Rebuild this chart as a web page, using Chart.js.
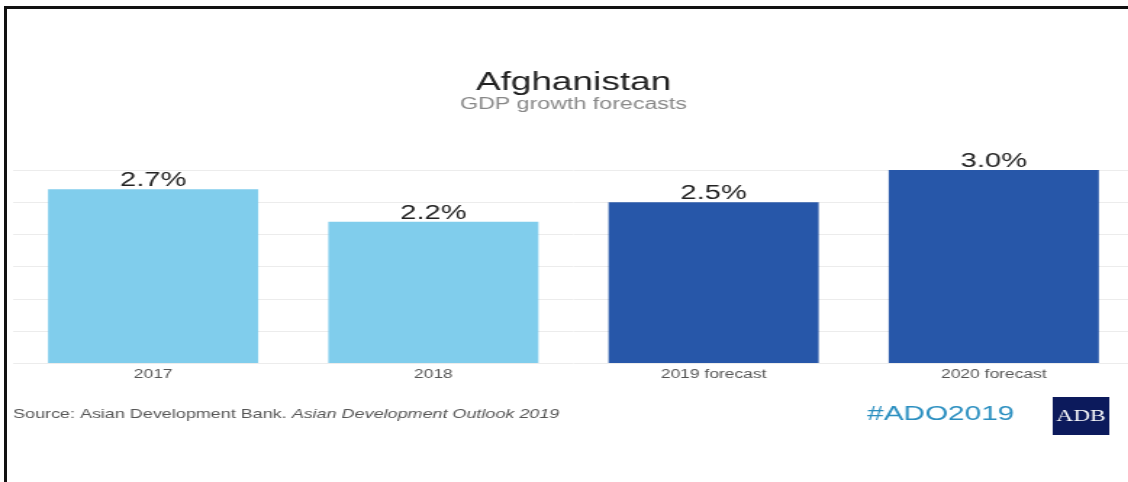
<!DOCTYPE html>
<html>
<head>
<meta charset="utf-8">
<script src="https://cdn.jsdelivr.net/npm/chart.js@4"></script>
<style>
  body { margin: 0; background: #fff; overflow: hidden; width: 1128px; height: 482px; }
  #frame { position: absolute; left: 4px; top: 6px; width: 1130px; height: 490px;
           border-top: 3px solid #111; border-left: 3px solid #111; pointer-events: none; }
  /* the reference picture is stretched sideways, so the chart is drawn narrow and scaled */
  #wrap { position: absolute; left: 0; top: 0; width: 782px; height: 482px;
          transform: scaleX(1.45); transform-origin: 0 0; }
</style>
</head>
<body>
<div id="wrap"><canvas id="myChart"></canvas></div>
<div id="frame"></div>
<script>
const categories = ["2017", "2018", "2019 forecast", "2020 forecast"];
const growth = [2.7, 2.2, 2.5, 3.0];
const valueLabels = ["2.7%", "2.2%", "2.5%", "3.0%"];
const barColors = ["#80cdec", "#80cdec", "#2757a9", "#2757a9"];
const yMin = 0;
const yMax = 3;
const yStep = 0.5;

const font = "'Liberation Sans', Arial, sans-serif";

// value labels over the bars
const barLabels = {
  id: "barLabels",
  afterDatasetsDraw(chart) {
    const c = chart.ctx;
    const meta = chart.getDatasetMeta(0);
    c.save();
    c.font = "20px " + font;
    c.fillStyle = "#222";
    c.textAlign = "center";
    c.textBaseline = "alphabetic";
    meta.data.forEach((bar, i) => {
      c.fillText(valueLabels[i], bar.x, bar.y - 3);
    });
    c.restore();
  }
};

// source line, hashtag and logo under the chart
const footer = {
  id: "footer",
  afterDraw(chart) {
    const c = chart.ctx;
    c.save();
    c.textBaseline = "middle";
    c.textAlign = "left";
    c.fillStyle = "#555";
    c.font = "12.4px " + font;
    const first = "Source: Asian Development Bank. ";
    c.fillText(first, 9, 415);
    const w = c.measureText(first).width;
    c.font = "italic 12.4px " + font;
    c.fillText("Asian Development Outlook 2019", 9 + w, 415);

    c.fillStyle = "#2b8fc0";
    c.font = "20.5px " + font;
    c.fillText("#ADO2019", 598, 414);

    c.fillStyle = "#0c1a5c";
    c.fillRect(726, 397, 39, 38);
    c.fillStyle = "#fff";
    c.font = "16px 'Liberation Serif', 'Times New Roman', serif";
    c.textAlign = "center";
    c.fillText("ADB", 745.5, 417);
    c.restore();
  }
};

new Chart(document.getElementById("myChart"), {
  type: "bar",
  data: {
    labels: categories,
    datasets: [
      {
        data: growth,
        backgroundColor: barColors,
        borderWidth: 0,
        categoryPercentage: 1,
        barPercentage: 0.75
      }
    ]
  },
  options: {
    responsive: true,
    maintainAspectRatio: false,
    animation: false,
    layout: { padding: { left: 9, right: 0, top: 0, bottom: 104 } },
    plugins: {
      legend: { display: false },
      tooltip: { enabled: false },
      title: {
        display: true,
        text: "Afghanistan",
        color: "#222",
        font: { family: font, size: 25.5, weight: "normal", lineHeight: 1 },
        padding: { top: 70, bottom: 0 }
      },
      subtitle: {
        display: true,
        text: "GDP growth forecasts",
        color: "#888",
        font: { family: font, size: 16, weight: "normal", lineHeight: 1 },
        padding: { top: 1.5, bottom: 57 }
      }
    },
    scales: {
      x: {
        grid: { display: false },
        border: { display: false },
        ticks: { color: "#555", font: { family: font, size: 12 }, padding: -4 }
      },
      y: {
        min: yMin,
        max: yMax,
        ticks: { display: false, stepSize: yStep },
        grid: { color: "#ececec", drawTicks: false },
        border: { display: false }
      }
    }
  },
  plugins: [barLabels, footer]
});
</script>
</body>
</html>
